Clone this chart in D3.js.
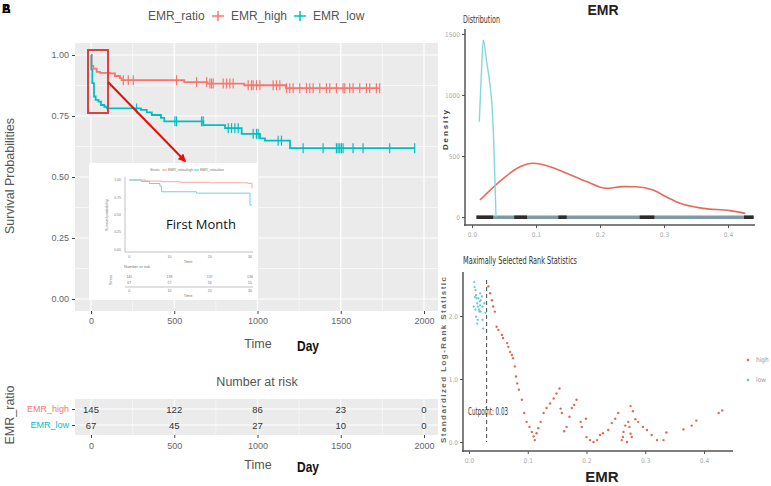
<!DOCTYPE html>
<html><head><meta charset="utf-8">
<script src="https://cdn.jsdelivr.net/npm/d3@7"></script>
<style>
body{margin:0;background:#fff;}
svg{display:block;font-family:'Liberation Sans',Arial,sans-serif;}
.nar{font-family:'Liberation Sans Narrow','DejaVu Sans Condensed','Liberation Sans',sans-serif;}
</style></head>
<body><svg id="c" width="771" height="486"></svg>
<script>
// ---------------- DATA ----------------
const groups = ["EMR_high", "EMR_low"];
const kmHighTime = [0, 4, 14, 34, 54, 114, 144, 174, 184, 560, 700, 920, 1170, 1734];
const kmHighSurv = [1.00, 0.955, 0.944, 0.931, 0.927, 0.925, 0.914, 0.905, 0.897, 0.889, 0.883, 0.876, 0.864, 0.864];
const kmLowTime = [0, 2, 8, 18, 28, 45, 60, 80, 95, 300, 335, 365, 420, 440, 675, 805, 905, 1015, 1045, 1195, 1944];
const kmLowSurv = [1.00, 0.94, 0.885, 0.83, 0.816, 0.809, 0.795, 0.788, 0.781, 0.775, 0.765, 0.754, 0.742, 0.728, 0.713, 0.70, 0.677, 0.658, 0.649, 0.618, 0.618];
const censorHigh = [194, 224, 254, 514, 634, 694, 714, 724, 734, 794, 814, 834, 854, 944, 964, 974, 994, 1014, 1094, 1114, 1134, 1174, 1194, 1214, 1254, 1294, 1314, 1334, 1374, 1414, 1434, 1474, 1514, 1524, 1554, 1574, 1614, 1654, 1674, 1714, 1734];
const censorLow = [274, 504, 514, 664, 674, 824, 844, 864, 884, 974, 994, 1004, 1124, 1144, 1274, 1394, 1474, 1484, 1494, 1504, 1514, 1574, 1634, 1794, 1944];
const timeTicks = [0, 500, 1000, 1500, 2000];
const survTicks = [0, 0.25, 0.5, 0.75, 1];
const riskTimes = [0, 500, 1000, 1500, 2000];
const riskHigh = [145, 122, 86, 23, 0];
const riskLow = [67, 45, 27, 10, 0];

// inset (first month)
const insetHighDay = [0, 4, 8, 12.6, 20, 29.4, 30.5];
const insetHighSurv = [1.00, 0.985, 0.975, 0.967, 0.96, 0.952, 0.88];
const insetLowDay = [0, 3, 5, 7.6, 8, 16.7, 30, 30.5];
const insetLowSurv = [1.00, 0.98, 0.95, 0.913, 0.83, 0.81, 0.64, 0.64];
const insetDayTicks = [0, 10, 20, 30];
const insetSurvTicks = ["1.00", "0.75", "0.50", "0.25", "0.00"];
const insetRiskHigh = [145, 138, 137, 136];
const insetRiskLow = [67, 57, 56, 55];

// density of EMR
const densHighX = [0.0125, 0.049, 0.075, 0.096, 0.122, 0.148, 0.179, 0.21, 0.236, 0.257, 0.283, 0.304, 0.325, 0.361, 0.403, 0.427];
const densHighY = [139, 317, 412, 440, 412, 358, 290, 235, 249, 248, 221, 164, 112, 71, 52, 30];
const densLowX = [0.0114, 0.0151, 0.0177, 0.0229, 0.0281, 0.0318, 0.0344, 0.0375];
const densLowY = [781, 1232, 1451, 1273, 1082, 875, 549, 2];
const densYTicks = [0, 500, 1000, 1500];
const emrTicks = [0, 0.1, 0.2, 0.3, 0.4];
const rugExtent = [0.007, 0.44];
const rugDark = [[0.007, 0.033], [0.066, 0.086], [0.135, 0.148], [0.262, 0.285], [0.425, 0.44]];

// maximally selected rank statistics
const cutpoint = 0.03;
const statLowX = [0.009, 0.0095, 0.011, 0.012, 0.013, 0.014, 0.015, 0.017, 0.018, 0.019, 0.020, 0.022, 0.023, 0.012, 0.014, 0.015, 0.011, 0.008, 0.018, 0.020, 0.023, 0.024, 0.016, 0.019, 0.026, 0.028, 0.010];
const statLowY = [2.54, 2.46, 2.41, 2.33, 2.28, 2.20, 2.15, 2.10, 2.07, 2.17, 2.25, 2.31, 2.15, 1.99, 1.88, 1.94, 2.10, 2.15, 2.23, 2.07, 1.94, 1.80, 2.28, 2.36, 2.20, 2.05, 2.30];
const statHighX = [0.033, 0.036, 0.039, 0.041, 0.044, 0.047, 0.050, 0.056, 0.058, 0.065, 0.067, 0.070, 0.073, 0.075, 0.078, 0.080, 0.082, 0.085, 0.090, 0.094, 0.098, 0.103, 0.107, 0.110, 0.112, 0.115, 0.118, 0.122, 0.127, 0.132, 0.138, 0.144, 0.149, 0.154, 0.156, 0.158, 0.162, 0.166, 0.171, 0.175, 0.179, 0.183, 0.190, 0.192, 0.199, 0.200, 0.206, 0.212, 0.218, 0.223, 0.228, 0.237, 0.243, 0.249, 0.254, 0.260, 0.262, 0.263, 0.266, 0.269, 0.271, 0.273, 0.275, 0.277, 0.275, 0.279, 0.283, 0.288, 0.296, 0.303, 0.311, 0.320, 0.331, 0.336, 0.365, 0.379, 0.387, 0.425, 0.431];
const statHighY = [2.47, 2.36, 2.25, 2.15, 2.07, 1.83, 1.78, 1.70, 1.65, 1.57, 1.51, 1.43, 1.38, 1.33, 1.20, 1.04, 0.93, 0.83, 0.67, 0.46, 0.32, 0.24, 0.16, 0.09, 0.03, 0.14, 0.22, 0.32, 0.46, 0.54, 0.61, 0.69, 0.77, 0.85, 0.53, 0.46, 0.17, 0.24, 0.40, 0.54, 0.59, 0.67, 0.32, 0.24, 0.37, 0.08, 0.03, 0.00, 0.03, 0.11, 0.14, 0.19, 0.30, 0.37, 0.46, 0.03, 0.08, 0.16, 0.26, 0.00, 0.32, 0.24, 0.13, 0.08, 0.57, 0.49, 0.36, 0.32, 0.24, 0.19, 0.11, 0.03, 0.03, 0.15, 0.20, 0.26, 0.34, 0.46, 0.50];
const statYTicks = [0, 1, 2];
const statLegend = ["high", "low"];

// ---------------- DRAW ----------------
const svg = d3.select("#c");
const RED = "#F8766D", TEAL = "#00BFC4", GRID = "#EBEBEB";
const TXT = "#555";

// panel labels A / B (overlapping as in the figure)
svg.append("text").attr("x", 2).attr("y", 13).attr("font-size", 12).attr("font-weight", "bold").text("A");
svg.append("text").attr("x", 2).attr("y", 13).attr("font-size", 12).attr("font-weight", "bold").text("B");

// ===== KM plot =====
const kx = d3.scaleLinear().domain([0, 2000]).range([91, 424]);
const ky = d3.scaleLinear().domain([0, 1]).range([299, 55]);
const P = {x0: 75, x1: 438, y0: 43, y1: 311};
svg.append("rect").attr("x", P.x0).attr("y", P.y0).attr("width", P.x1 - P.x0).attr("height", P.y1 - P.y0).attr("fill", GRID);
const minorT = d3.range(250, 2001, 500), minorS = [0.125, 0.375, 0.625, 0.875];
const g = svg.append("g");
g.selectAll(".mx").data(minorT).join("line").attr("x1", d => kx(d)).attr("x2", d => kx(d)).attr("y1", P.y0).attr("y2", P.y1).attr("stroke", "#fff").attr("stroke-width", 0.6);
g.selectAll(".my").data(minorS).join("line").attr("y1", d => ky(d)).attr("y2", d => ky(d)).attr("x1", P.x0).attr("x2", P.x1).attr("stroke", "#fff").attr("stroke-width", 0.6);
g.selectAll(".Mx").data(timeTicks).join("line").attr("x1", d => kx(d)).attr("x2", d => kx(d)).attr("y1", P.y0).attr("y2", P.y1).attr("stroke", "#fff").attr("stroke-width", 1.2);
g.selectAll(".My").data(survTicks).join("line").attr("y1", d => ky(d)).attr("y2", d => ky(d)).attr("x1", P.x0).attr("x2", P.x1).attr("stroke", "#fff").attr("stroke-width", 1.2);

// axes
const yAx = svg.append("g").attr("transform", `translate(${P.x0},0)`)
  .call(d3.axisLeft(ky).tickValues(survTicks).tickFormat(d3.format(".2f")).tickSize(3).tickPadding(3));
const xAx = svg.append("g").attr("transform", `translate(0,${P.y1})`)
  .call(d3.axisBottom(kx).tickValues(timeTicks).tickFormat(d3.format("d")).tickSize(3).tickPadding(4));
[yAx, xAx].forEach(a => {
  a.select(".domain").remove();
  a.selectAll("line").attr("stroke", "#444");
  a.selectAll("text").attr("fill", "#666").attr("font-size", 9).attr("font-family", "'Liberation Sans',Arial,sans-serif");
});

// curves
const stepLine = d3.line().x(d => kx(d[0])).y(d => ky(d[1])).curve(d3.curveStepAfter);
const highPts = kmHighTime.map((t, i) => [t, kmHighSurv[i]]);
const lowPts = kmLowTime.map((t, i) => [t, kmLowSurv[i]]);
svg.append("path").attr("d", stepLine(highPts)).attr("fill", "none").attr("stroke", RED).attr("stroke-width", 1.8);
svg.append("path").attr("d", stepLine(lowPts)).attr("fill", "none").attr("stroke", TEAL).attr("stroke-width", 1.8);
function survAt(times, surv, t) { let v = surv[0]; for (let i = 0; i < times.length; i++) { if (times[i] <= t) v = surv[i]; } return v; }
svg.selectAll(".ch").data(censorHigh).join("line")
  .attr("x1", d => kx(d)).attr("x2", d => kx(d))
  .attr("y1", d => ky(survAt(kmHighTime, kmHighSurv, d)) - 5).attr("y2", d => ky(survAt(kmHighTime, kmHighSurv, d)) + 5)
  .attr("stroke", RED).attr("stroke-width", 1.2);
svg.selectAll(".cl").data(censorLow).join("line")
  .attr("x1", d => kx(d)).attr("x2", d => kx(d))
  .attr("y1", d => ky(survAt(kmLowTime, kmLowSurv, d)) - 5).attr("y2", d => ky(survAt(kmLowTime, kmLowSurv, d)) + 5)
  .attr("stroke", TEAL).attr("stroke-width", 1.2);

// legend
const lg = svg.append("g").attr("font-size", 12).attr("fill", TXT);
lg.append("text").attr("x", 148).attr("y", 20).text("EMR_ratio");
[[RED, 218, "EMR_high", 231], [TEAL, 300, "EMR_low", 313]].forEach(([c, x, t, tx]) => {
  lg.append("line").attr("x1", x - 6).attr("x2", x + 6).attr("y1", 16).attr("y2", 16).attr("stroke", c).attr("stroke-width", 1.5);
  lg.append("line").attr("x1", x).attr("x2", x).attr("y1", 11).attr("y2", 21).attr("stroke", c).attr("stroke-width", 1.5);
  lg.append("text").attr("x", tx).attr("y", 20).text(t);
});

// axis titles
svg.append("text").attr("transform", "translate(14,176) rotate(-90)").attr("text-anchor", "middle").attr("font-size", 12.5).attr("fill", TXT).text("Survival Probabilities");
svg.append("text").attr("x", 258).attr("y", 348).attr("text-anchor", "middle").attr("font-size", 12.5).attr("fill", TXT).text("Time");
svg.append("text").attr("x", 308).attr("y", 351).attr("text-anchor", "middle").attr("font-size", 14).attr("font-weight", "bold").attr("fill", "#111").attr("textLength", 22).attr("lengthAdjust", "spacingAndGlyphs").text("Day");

// ===== inset =====
svg.append("rect").attr("x", 89).attr("y", 163).attr("width", 168).attr("height", 137).attr("fill", "#fff");
const ix = d3.scaleLinear().domain([0, 30]).range([129.3, 250]);
const iy = d3.scaleLinear().domain([0, 1]).range([249.3, 180]);
const ig = svg.append("g").attr("fill", "#777");
ig.append("line").attr("x1", 125).attr("x2", 125).attr("y1", 177).attr("y2", 252).attr("stroke", "#999").attr("stroke-width", 0.6);
ig.append("line").attr("x1", 125).attr("x2", 253).attr("y1", 252).attr("y2", 252).attr("stroke", "#999").attr("stroke-width", 0.6);
insetSurvTicks.forEach(s => {
  ig.append("text").attr("x", 121).attr("y", iy(+s) + 1.2).attr("text-anchor", "end").attr("font-size", 3.5).text(s);
});
insetDayTicks.forEach(t => {
  ig.append("text").attr("x", ix(t)).attr("y", 258).attr("text-anchor", "middle").attr("font-size", 3.5).text(t);
  ig.append("text").attr("x", ix(t)).attr("y", 292).attr("text-anchor", "middle").attr("font-size", 3.5).text(t);
});
ig.append("text").attr("x", 188).attr("y", 263).attr("text-anchor", "middle").attr("font-size", 4).text("Time");
ig.append("text").attr("x", 188).attr("y", 297).attr("text-anchor", "middle").attr("font-size", 4).text("Time");
ig.append("text").attr("transform", "translate(108,215) rotate(-90)").attr("text-anchor", "middle").attr("font-size", 3.8).text("Survival probability");
ig.append("text").attr("x", 124).attr("y", 268).attr("font-size", 4).text("Number at risk");
ig.append("text").attr("transform", "translate(112,280) rotate(-90)").attr("text-anchor", "middle").attr("font-size", 3.8).text("Strata");
ig.append("line").attr("x1", 125).attr("x2", 253).attr("y1", 287).attr("y2", 287).attr("stroke", "#999").attr("stroke-width", 0.6);
insetRiskHigh.forEach((v, i) => ig.append("text").attr("x", ix(insetDayTicks[i])).attr("y", 278).attr("text-anchor", "middle").attr("font-size", 3.5).text(v));
insetRiskLow.forEach((v, i) => ig.append("text").attr("x", ix(insetDayTicks[i])).attr("y", 283.5).attr("text-anchor", "middle").attr("font-size", 3.5).text(v));
ig.append("text").attr("x", 150).attr("y", 171).attr("font-size", 3.5).text("Strata");
ig.append("line").attr("x1", 162).attr("x2", 167).attr("y1", 170).attr("y2", 170).attr("stroke", RED).attr("stroke-width", 0.8);
ig.append("text").attr("x", 168).attr("y", 171).attr("font-size", 3.5).text("EMR_ratio=high");
ig.append("line").attr("x1", 194).attr("x2", 199).attr("y1", 170).attr("y2", 170).attr("stroke", TEAL).attr("stroke-width", 0.8);
ig.append("text").attr("x", 200).attr("y", 171).attr("font-size", 3.5).text("EMR_ratio=low");
const iline = d3.line().x(d => ix(d[0])).y(d => iy(d[1])).curve(d3.curveStepAfter);
svg.append("path").attr("d", iline(insetHighDay.map((t, i) => [t, insetHighSurv[i]]))).attr("fill", "none").attr("stroke", "#F4A9A3").attr("stroke-width", 1);
svg.append("path").attr("d", iline(insetLowDay.map((t, i) => [t, insetLowSurv[i]]))).attr("fill", "none").attr("stroke", "#6FD3D6").attr("stroke-width", 1);
svg.append("text").attr("x", 201).attr("y", 229).attr("text-anchor", "middle").attr("font-size", 13).attr("textLength", 70).attr("font-family", "'Open Sans','Noto Sans',sans-serif").attr("fill", "#111").text("First Month");

// red box + arrow
svg.append("defs").append("marker").attr("id", "ah").attr("viewBox", "0 0 10 10").attr("refX", 8).attr("refY", 5)
  .attr("markerWidth", 4).attr("markerHeight", 4).attr("orient", "auto")
  .append("path").attr("d", "M0,0L10,5L0,10z").attr("fill", "#E01010");
svg.append("rect").attr("x", 88).attr("y", 50).attr("width", 20).attr("height", 63).attr("fill", "none").attr("stroke", "#E04040").attr("stroke-width", 2);
svg.append("line").attr("x1", 108).attr("y1", 82).attr("x2", 185).attr("y2", 161).attr("stroke", "#E01010").attr("stroke-width", 2).attr("marker-end", "url(#ah)");

// ===== risk table =====
svg.append("text").attr("x", 257).attr("y", 386).attr("text-anchor", "middle").attr("font-size", 12.5).attr("fill", TXT).text("Number at risk");
const R = {y0: 399, y1: 435};
const ry = d3.scaleBand().domain(groups).range([R.y0 + 2, R.y1 - 2]).padding(0);
svg.append("rect").attr("x", P.x0).attr("y", R.y0).attr("width", P.x1 - P.x0).attr("height", R.y1 - R.y0).attr("fill", GRID);
svg.selectAll(".rv").data(timeTicks).join("line").attr("x1", d => kx(d)).attr("x2", d => kx(d)).attr("y1", R.y0).attr("y2", R.y1).attr("stroke", "#fff").attr("stroke-width", 1);
svg.selectAll(".rvm").data(minorT).join("line").attr("x1", d => kx(d)).attr("x2", d => kx(d)).attr("y1", R.y0).attr("y2", R.y1).attr("stroke", "#fff").attr("stroke-width", 0.5);
svg.selectAll(".rh").data(groups).join("line").attr("y1", d => ry(d) + ry.bandwidth() / 2).attr("y2", d => ry(d) + ry.bandwidth() / 2).attr("x1", P.x0).attr("x2", P.x1).attr("stroke", "#fff").attr("stroke-width", 1);
const ryAx = svg.append("g").attr("transform", `translate(${P.x0},0)`)
  .call(d3.axisLeft(d3.scalePoint().domain(groups).range([ry("EMR_high") + ry.bandwidth() / 2, ry("EMR_low") + ry.bandwidth() / 2])).tickSize(3).tickPadding(3));
ryAx.select(".domain").remove();
ryAx.selectAll("line").attr("stroke", "#444");
ryAx.selectAll("text").attr("font-size", 9).attr("font-family", "'Liberation Sans',Arial,sans-serif").attr("fill", (d) => d === "EMR_high" ? RED : TEAL);
[[riskHigh, "EMR_high"], [riskLow, "EMR_low"]].forEach(([arr, gname]) => {
  svg.selectAll(null).data(arr).join("text").attr("x", (d, i) => kx(riskTimes[i])).attr("y", ry(gname) + ry.bandwidth() / 2 + 3.5)
    .attr("text-anchor", "middle").attr("font-size", 9.5).attr("fill", "#333").text(d => d);
});
const rxAx = svg.append("g").attr("transform", `translate(0,${R.y1})`)
  .call(d3.axisBottom(kx).tickValues(timeTicks).tickFormat(d3.format("d")).tickSize(3).tickPadding(5));
rxAx.select(".domain").remove();
rxAx.selectAll("line").attr("stroke", "#444");
rxAx.selectAll("text").attr("fill", "#666").attr("font-size", 9).attr("font-family", "'Liberation Sans',Arial,sans-serif");
svg.append("text").attr("transform", "translate(14,415) rotate(-90)").attr("text-anchor", "middle").attr("font-size", 12.5).attr("fill", TXT).text("EMR_ratio");
svg.append("text").attr("x", 258).attr("y", 469).attr("text-anchor", "middle").attr("font-size", 12.5).attr("fill", TXT).text("Time");
svg.append("text").attr("x", 308).attr("y", 472).attr("text-anchor", "middle").attr("font-size", 14).attr("font-weight", "bold").attr("fill", "#111").attr("textLength", 22).attr("lengthAdjust", "spacingAndGlyphs").text("Day");

// ===== Right: density =====
const dx = d3.scaleLinear().domain([0, 0.4]).range([472, 728]);
const dy = d3.scaleLinear().domain([0, 1500]).range([217, 34]);
svg.append("text").attr("x", 603).attr("y", 15).attr("text-anchor", "middle").attr("font-size", 14).attr("font-weight", "bold").attr("fill", "#222").text("EMR");
svg.append("text").attr("class", "nar").attr("x", 463).attr("y", 23).attr("font-size", 10).attr("fill", "#333").attr("textLength", 37).attr("lengthAdjust", "spacingAndGlyphs").text("Distribution");
const dAxY = svg.append("g").attr("class", "nar").attr("transform", "translate(465,0)")
  .call(d3.axisLeft(dy).tickValues(densYTicks).tickFormat(d3.format("d")).tickSize(3).tickPadding(2));
const dAxX = svg.append("g").attr("class", "nar").attr("transform", "translate(0,225)")
  .call(d3.axisBottom(dx).tickValues(emrTicks).tickFormat(d3.format(".1f")).tickSize(3).tickPadding(4));
[dAxY, dAxX].forEach(a => {
  a.select(".domain").remove();
  a.selectAll("line").attr("stroke", "#555");
  a.selectAll("text").attr("fill", "#aaa").attr("font-size", 6.5);
});
svg.append("line").attr("x1", 465).attr("x2", 465).attr("y1", 29).attr("y2", 226).attr("stroke", "#555").attr("stroke-width", 1.5);
svg.append("line").attr("x1", 464).attr("x2", 755).attr("y1", 225).attr("y2", 225).attr("stroke", "#555").attr("stroke-width", 1.5);
svg.append("text").attr("transform", "translate(448,130) rotate(-90)").attr("text-anchor", "middle").attr("font-size", 8).attr("font-weight", "bold").attr("fill", "#444").attr("textLength", 40).text("Density");
// rug band
svg.append("rect").attr("x", dx(rugExtent[0])).attr("width", dx(rugExtent[1]) - dx(rugExtent[0])).attr("y", 215.5).attr("height", 3.5).attr("fill", "#7c9ba4");
svg.selectAll(".rd").data(rugDark).join("rect").attr("x", d => dx(d[0])).attr("width", d => dx(d[1]) - dx(d[0])).attr("y", 215.5).attr("height", 3.5).attr("fill", "#2d2d2d");
const dline = d3.line().x(d => dx(d[0])).y(d => dy(d[1])).curve(d3.curveMonotoneX);
svg.append("path").attr("d", dline(densHighX.map((x, i) => [x, densHighY[i]]))).attr("fill", "none").attr("stroke", "#E46B5A").attr("stroke-width", 1.6);
svg.append("path").attr("d", dline(densLowX.map((x, i) => [x, densLowY[i]]))).attr("fill", "none").attr("stroke", "#86D6DC").attr("stroke-width", 1.4);

// ===== Right: rank statistics =====
const sx = d3.scaleLinear().domain([0, 0.4]).range([469, 704]);
const sy = d3.scaleLinear().domain([0, 2]).range([442, 316]);
svg.append("text").attr("class", "nar").attr("x", 463).attr("y", 264).attr("font-size", 10).attr("fill", "#333").attr("textLength", 114).attr("lengthAdjust", "spacingAndGlyphs").text("Maximally Selected Rank Statistics");
const sAxY = svg.append("g").attr("class", "nar").attr("transform", "translate(463,0)")
  .call(d3.axisLeft(sy).tickValues(statYTicks).tickSize(3).tickPadding(2));
const sAxX = svg.append("g").attr("class", "nar").attr("transform", "translate(0,451)")
  .call(d3.axisBottom(sx).tickValues(emrTicks).tickFormat(d3.format(".1f")).tickSize(3).tickPadding(4));
[sAxY, sAxX].forEach(a => {
  a.select(".domain").remove();
  a.selectAll("line").attr("stroke", "#555");
  a.selectAll("text").attr("fill", "#aaa").attr("font-size", 6.5);
});
svg.append("line").attr("x1", 463).attr("x2", 463).attr("y1", 272).attr("y2", 452).attr("stroke", "#555").attr("stroke-width", 1.5);
svg.append("line").attr("x1", 462).attr("x2", 733).attr("y1", 451).attr("y2", 451).attr("stroke", "#555").attr("stroke-width", 1.5);
svg.append("text").attr("transform", "translate(446,360) rotate(-90)").attr("text-anchor", "middle").attr("font-size", 8).attr("font-weight", "bold").attr("fill", "#666").attr("textLength", 166).text("Standardized Log-Rank Statistic");
svg.append("line").attr("x1", sx(cutpoint)).attr("x2", sx(cutpoint)).attr("y1", 280).attr("y2", sy(0)).attr("stroke", "#333").attr("stroke-width", 0.9).attr("stroke-dasharray", "4,3");
svg.append("text").attr("class", "nar").attr("x", 468).attr("y", 415).attr("font-size", 10).attr("fill", "#333").attr("textLength", 40).attr("lengthAdjust", "spacingAndGlyphs").text("Cutpoint: " + cutpoint.toFixed(2));
svg.selectAll(".pl").data(statLowX).join("circle").attr("cx", d => sx(d)).attr("cy", (d, i) => sy(statLowY[i])).attr("r", 1.1).attr("fill", "#5CC8CF");
svg.selectAll(".ph").data(statHighX).join("circle").attr("cx", d => sx(d)).attr("cy", (d, i) => sy(statHighY[i])).attr("r", 1.2).attr("fill", "#DE6A58");
svg.append("text").attr("x", 602).attr("y", 482).attr("text-anchor", "middle").attr("font-size", 15).attr("font-weight", "bold").attr("fill", "#222").text("EMR");
statLegend.forEach((s, i) => {
  svg.append("circle").attr("cx", 748).attr("cy", 360 + i * 20).attr("r", 1.3).attr("fill", i === 0 ? "#DE6A58" : "#5CC8CF");
  svg.append("text").attr("class", "nar").attr("x", 756).attr("y", 362 + i * 20).attr("font-size", 6.5).attr("fill", "#999").text(s);
});
</script></body></html>
